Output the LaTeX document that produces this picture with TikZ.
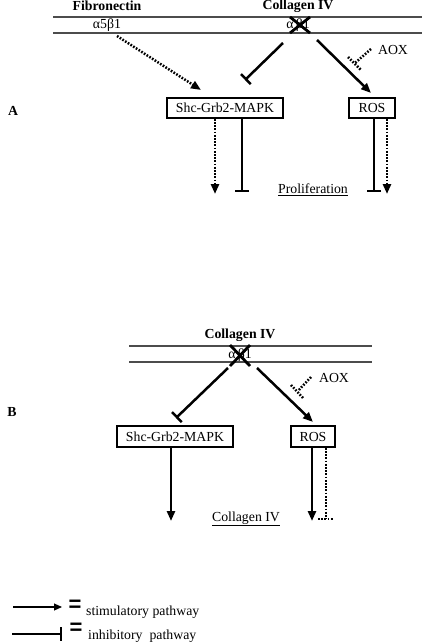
\documentclass[tikz,border=0pt]{standalone}
\usepackage{fontspec}
\setmainfont{Liberation Serif}
\newfontfamily\eqfont{Liberation Sans}
\usetikzlibrary{arrows.meta}
\tikzset{
  txt/.style={inner sep=0pt, font=\fontsize{13.8}{15}\selectfont},
  btxt/.style={inner sep=0pt, font=\fontsize{13.8}{15}\selectfont\bfseries},
  pbox/.style={draw, line width=1.7pt, minimum height=20pt, inner sep=0pt, font=\fontsize{13.8}{15}\selectfont},
  membrane/.style={draw=black!70, line width=1.5pt},
  stim/.style={line width=2.5pt, -{Triangle[length=10pt,width=8pt]}},
  dstim/.style={line width=2.5pt, dash pattern=on 1.7pt off 1.5pt, -{Triangle[length=10pt,width=8pt]}},
  inhib/.style={line width=2.5pt, -{Bar[width=14pt,line width=2.5pt]}},
  dotl/.style={line width=2.5pt, dash pattern=on 1.7pt off 1.5pt},
  crossx/.style={line width=2.8pt},
  eqs/.style={inner sep=0pt, font=\eqfont\fontsize{22}{22}\selectfont\bfseries},
}
\begin{document}
\begin{tikzpicture}[x=1pt,y=-1pt]
\useasboundingbox (0,0) rectangle (422,643);
% ---------------- Panel A ----------------
\node[btxt] (fibA) at (107,6) {Fibronectin};
\node[btxt] (colA) at (298,6) {Collagen IV};
\draw[membrane] (53,17) -- (422,17);
\draw[membrane] (53,33) -- (422,33);
\node[txt] (a5b1) at (107,25) {α5β1};
\node[txt] (a1b1A) at (298,25) {α\,β1};
\draw[crossx] (290,17) -- (310,33) (310,17) -- (290,33);
\node[txt] (labA) at (13,111) {\bfseries A};
\node[pbox, minimum width=116pt] (shcA) at (225,108) {Shc-Grb2-MAPK};
\node[pbox, minimum width=46pt] (rosA) at (372,108) {ROS};
\node[txt] (aoxA) at (393,50) {AOX};
\node[txt] (proA) at (313,190) {\underline{Proliferation}};
\coordinate (fA1) at (117,36);
\coordinate (fA2) at (201,90);
\coordinate (iA1) at (283,43);
\coordinate (iA2) at (245,80);
\coordinate (sA1) at (317,40);
\coordinate (sA2) at (371,93);
\coordinate (xA1) at (371,49);
\coordinate (xA2) at (355,63);
\draw[dstim] (fA1) -- (fA2);
\draw[inhib] (iA1) -- (iA2);
\draw[stim] (sA1) -- (sA2);
\draw[dotl] (xA1) -- (xA2);
\draw[dotl] (348,57) -- (361,70);
\coordinate (dA1) at (215,194);
\coordinate (tA1) at (242,192);
\coordinate (tA2) at (374,192);
\coordinate (dA2) at (387,194);
\draw[dstim] (shcA.south -| dA1) -- (dA1);
\draw[inhib] (shcA.south -| tA1) -- (tA1);
\draw[inhib] (rosA.south -| tA2) -- (tA2);
\draw[dstim] (rosA.south -| dA2) -- (dA2);
% ---------------- Panel B ----------------
\node[btxt] (colB) at (240,335) {Collagen IV};
\draw[membrane] (129,346) -- (372,346);
\draw[membrane] (129,362) -- (372,362);
\node[txt] (a1b1B) at (240,355) {α\,β1};
\draw[crossx] (230,345) -- (250,366) (250,345) -- (230,366);
\node[txt] (labB) at (12,412) {\bfseries B};
\node[pbox, minimum width=116pt, minimum height=21pt] (shcB) at (175,436.5) {Shc-Grb2-MAPK};
\node[pbox, minimum width=44pt, minimum height=21pt] (rosB) at (313,436.5) {ROS};
\node[txt] (aoxB) at (334,378) {AOX};
\node[txt] (colU) at (246,519) {\underline{Collagen IV}};
\coordinate (iB1) at (228,368);
\coordinate (iB2) at (176,418);
\coordinate (sB1) at (257,368);
\coordinate (sB2) at (313,422);
\coordinate (xB1) at (311,377);
\coordinate (xB2) at (298,391);
\draw[inhib] (iB1) -- (iB2);
\draw[stim] (sB1) -- (sB2);
\draw[dotl] (xB1) -- (xB2);
\draw[dotl] (291,385) -- (303,398);
\coordinate (aB1) at (171,521);
\coordinate (aB2) at (312,521);
\coordinate (dB) at (326,519);
\draw[stim] (shcB.south -| aB1) -- (aB1);
\draw[stim] (rosB.south -| aB2) -- (aB2);
\draw[dotl] (rosB.south -| dB) -- (dB);
\draw[dotl] (318,519) -- (333,519);
% ---------------- Legend ----------------
\coordinate (l1a) at (13,607);
\coordinate (l1b) at (62,607);
\coordinate (l2a) at (12,634);
\coordinate (l2b) at (61,634);
\draw[line width=1.1pt, -{Triangle[length=8pt,width=7pt]}] (l1a) -- (l1b);
\draw[line width=1.1pt] (l2a) -- (l2b) (61,627) -- (61,641);
\node[eqs] (eq1) at (75,606) {=};
\node[eqs] (eq2) at (76,629) {=};
\node[txt, anchor=west] (stl) at (86,612) {stimulatory pathway};
\node[txt, anchor=west] (inl) at (88,636) {inhibitory\ \ pathway};
\end{tikzpicture}
\end{document}
